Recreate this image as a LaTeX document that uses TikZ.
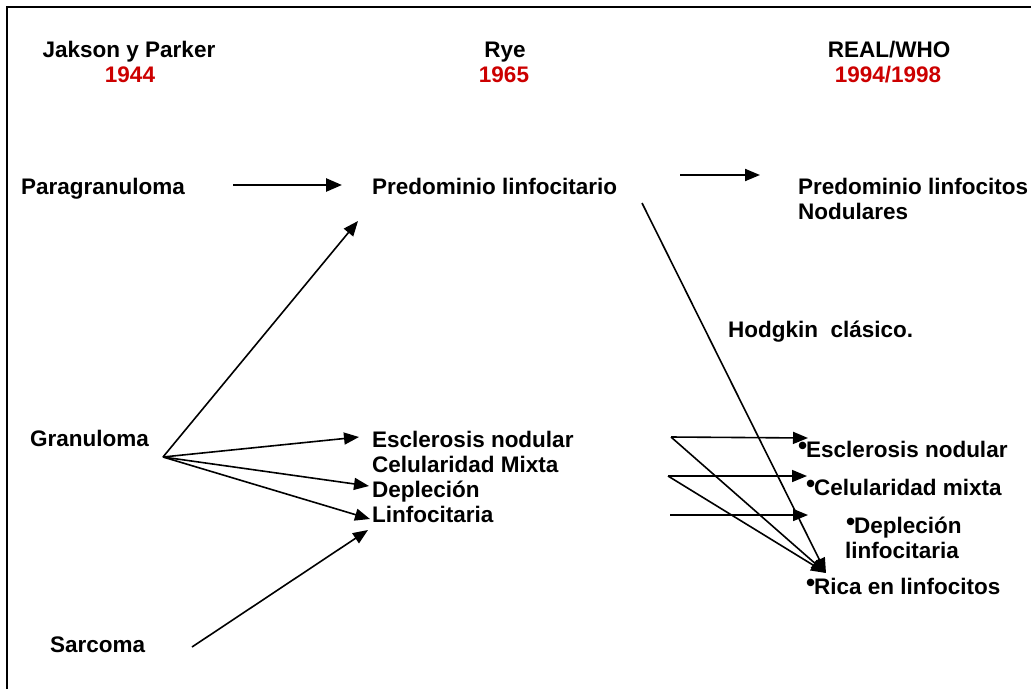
\documentclass[tikz,border=0pt]{standalone}
\usepackage{fontspec}
\setmainfont{Liberation Sans}
\usetikzlibrary{arrows.meta}
\definecolor{yearred}{RGB}{204,0,0}
\newcommand{\bul}{\makebox[8pt][l]{\raisebox{3pt}{\fontsize{26}{26}\selectfont\textbullet}}}

\begin{document}
\begin{tikzpicture}[x=1pt,y=-1pt,
    txt/.style={anchor=base west,inner sep=0pt,font=\fontsize{22.5}{24}\selectfont\bfseries},
    head/.style={txt,anchor=base},
    year/.style={head,text=yearred},
    arr/.style={line width=1.6pt,-{Triangle[length=15pt,width=12pt]}}]
        \useasboundingbox (0,0) rectangle (1031,689);
        % frame
        \draw [line width=2pt] (7,689) -- (7,6.5) -- (1031,6.5);

        % headings
        \node [head] (jp) at (129,57) {Jakson y Parker};
        \node [year] (jpyear) at (130,82) {1944};
        \node [head] (rye) at (505,57) {Rye};
        \node [year] (ryeyear) at (504,82) {1965};
        \node [head] (real) at (889,57) {REAL/WHO};
        \node [year] (realyear) at (888,82) {1994/1998};

        % jakson y parker
        \node [txt] (para) at (21,194) {Paragranuloma};
        \node [txt] (gran) at (30,446) {Granuloma};
        \node [txt] (sarc) at (50,652) {Sarcoma};

        % rye
        \node [txt] (predlin) at (372,194) {Predominio linfocitario};
        \node [txt] (escl) at (372,447) {Esclerosis nodular};
        \node [txt] (celu) at (372,472) {Celularidad Mixta};
        \node [txt] (depl) at (372,497) {Depleción};
        \node [txt] (linf) at (372,522) {Linfocitaria};

        % real/who
        \node [txt] (prednod) at (798,194) {Predominio linfocitos};
        \node [txt] (prednodb) at (798,219) {Nodulares};
        \node [txt] (hodg) at (728,337) {Hodgkin\ \ clásico.};
        \node [txt] (resc) at (798,457) {\bul Esclerosis nodular};
        \node [txt] (rcel) at (806,495) {\bul Celularidad mixta};
        \node [txt] (rdep) at (846,533) {\bul Depleción};
        \node [txt] (rdepb) at (845,558) {linfocitaria};
        \node [txt] (rrica) at (806,594) {\bul Rica en linfocitos};

        % connector ends
        \coordinate (pa) at (233,185); \coordinate (pb) at (342,185);
        \coordinate (fan) at (163,457);
        \coordinate (fa) at (358,221); \coordinate (fb) at (359,437);
        \coordinate (fc) at (369,486); \coordinate (fd) at (370,519);
        \coordinate (sa) at (192,647); \coordinate (sb) at (368,530);
        \coordinate (na) at (680,175); \coordinate (nb) at (760,175);
        \coordinate (ha) at (642,203);
        \coordinate (ea) at (671,437); \coordinate (eb) at (808,438);
        \coordinate (ca) at (668,476); \coordinate (cb) at (807,476);
        \coordinate (da) at (670,515); \coordinate (db) at (808,515);
        \coordinate (rica) at (826,573);

        % arrows
        \draw [arr,line width=2.6pt,-{Triangle[length=16pt,width=13pt]}] (pa) -- (pb);
        \draw [arr,line width=2pt] (na) -- (nb);
        \draw [arr] (fan) -- (fa);
        \draw [arr] (fan) -- (fb);
        \draw [arr] (fan) -- (fc);
        \draw [arr] (fan) -- (fd);
        \draw [arr] (sa) -- (sb);
        \draw [arr] (ha) -- (rica);
        \draw [arr] (ea) -- (eb);
        \draw [arr] (ea) -- (rica);
        \draw [arr] (ca) -- (cb);
        \draw [arr] (ca) -- (rica);
        \draw [arr] (da) -- (db);
    \end{tikzpicture}
\end{document}
